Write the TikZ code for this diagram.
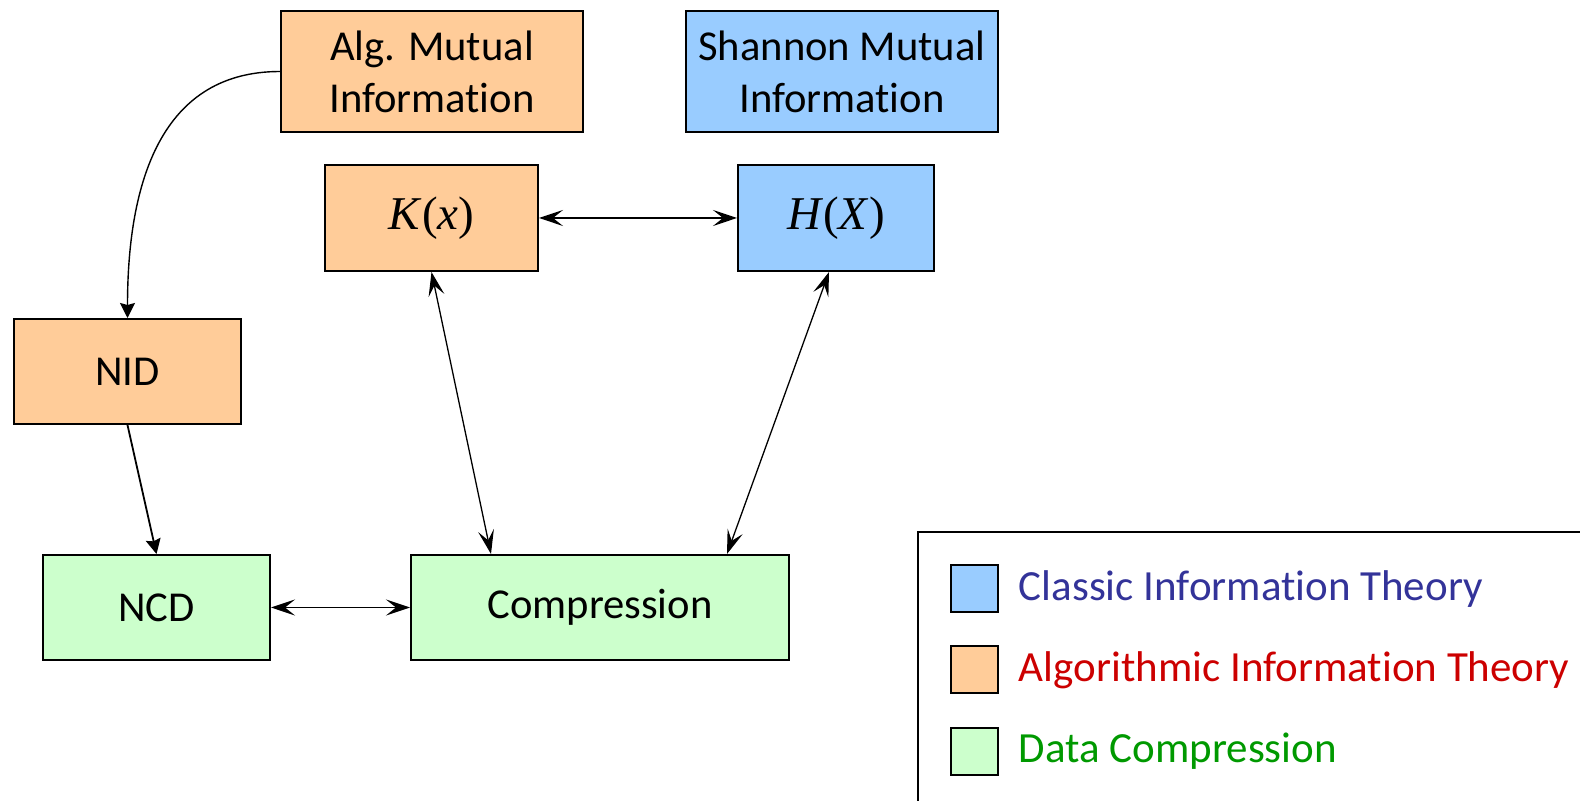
\documentclass[tikz,border=0pt]{standalone}
\usepackage{fontspec}
\setmainfont{Carlito}[Ligatures={NoCommon}]
\newfontfamily\timesfont{Liberation Serif}
\usetikzlibrary{arrows.meta, positioning}

\definecolor{arancio}{HTML}{FFCC99}
\definecolor{azzurro}{HTML}{99CCFF}
\definecolor{verdino}{HTML}{CCFFCC}
\definecolor{blutesto}{HTML}{333399}
\definecolor{rossotesto}{HTML}{CC0000}
\definecolor{verdetesto}{HTML}{009900}

\begin{document}
\begin{tikzpicture}[x=0.5pt, y=-0.5pt,
	blocco/.style={draw, line width=1pt, align=center, inner sep=0pt,
		font=\fontsize{21.3}{26}\selectfont},
	formula/.style={font=\timesfont\fontsize{23.5}{28}\selectfont},
	doppia/.style={{Stealth[length=12pt, width=8pt, inset=5pt]}-{Stealth[length=12pt, width=8pt, inset=5pt]}, line width=0.65pt},
	freccia/.style={-{Stealth[length=7.5pt, width=7.5pt, inset=1pt]}, line width=0.9pt},
	campione/.style={draw, line width=1pt, minimum width=23.5pt, minimum height=23.5pt, inner sep=0pt},
	voce/.style={anchor=base west, inner sep=0pt, font=\fontsize{21.5}{26}\selectfont}]
	
	\path[use as bounding box] (0,0) rectangle (1580,801);
	
	% Mutua informazione
	\node[blocco, fill=arancio, minimum width=151pt, minimum height=60.5pt] (alg) at (432,71.5) {Alg. Mutual\\Information};
	\node[blocco, fill=azzurro, minimum width=156pt, minimum height=60.5pt] (shannon) at (842,71.5) {Shannon Mutual\\Information};
	
	% Complessita' ed entropia
	\node[blocco, formula, fill=arancio, minimum width=106.5pt, minimum height=53pt] (kx) at (431.5,218) {\textit{K}(\textit{x})};
	\node[blocco, formula, fill=azzurro, minimum width=98pt, minimum height=53pt] (hx) at (836,218) {\textit{H}(\textit{X})};
	
	% Distanze e compressione
	\node[blocco, fill=arancio, minimum width=113.5pt, minimum height=52.5pt] (nid) at (127.5,371.5) {NID};
	\node[blocco, fill=verdino, minimum width=113.5pt, minimum height=52.5pt] (ncd) at (156.5,607.5) {NCD};
	\node[blocco, fill=verdino, minimum width=189pt, minimum height=52.5pt] (comp) at (600,607.5) {Compression};
	
	% Collegamenti
	\draw[freccia, line width=0.7pt] (alg.west) to[out=180, in=90, looseness=1.1] (nid.north);
	\draw[freccia] (nid.south) -- (ncd.north);
	\draw[doppia] (kx.east) -- (hx.west);
	\draw[doppia] (kx.south) -- ([xshift=-54.5pt]comp.north);
	\draw[doppia] ([xshift=-3.5pt]hx.south) -- ([xshift=63.5pt]comp.north);
	\draw[doppia] (ncd.east) -- (comp.west);
	
	% Legenda
	\begin{scope}
		\clip (0,0) rectangle (1580,801);
		\draw[line width=1pt] (918,532) rectangle (1620,840);
	\end{scope}
	\node[campione, fill=azzurro] (cit) at (974,589) {};
	\node[campione, fill=arancio, below=16pt of cit] (ait) {};
	\node[campione, fill=verdino, below=16pt of ait] (dc) {};
	\node[voce, text=blutesto] (tcit) at ([xshift=10pt, yshift=-5.8pt]cit.east) {Classic Information Theory};
	\node[voce, text=rossotesto] (tait) at ([xshift=10pt, yshift=-5.8pt]ait.east) {Algorithmic Information Theory};
	\node[voce, text=verdetesto] (tdc) at ([xshift=10pt, yshift=-5.8pt]dc.east) {Data Compression};
	
\end{tikzpicture}
\end{document}
